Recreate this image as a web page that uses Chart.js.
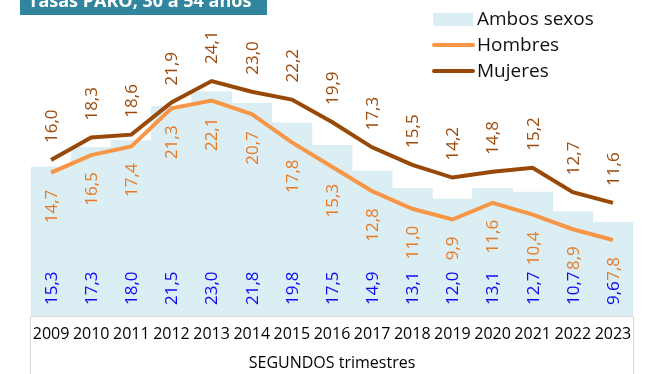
<!DOCTYPE html>
<html>
<head>
<meta charset="utf-8">
<style>
  html, body { margin: 0; padding: 0; background: #fff; }
  #wrap { position: relative; width: 650px; height: 374px; }
</style>
<script src="https://cdn.jsdelivr.net/npm/chart.js@4.4.1/dist/chart.umd.min.js"></script>
</head>
<body>
<div id="wrap"><canvas id="c" width="650" height="374"></canvas></div>
<script>
// Unemployment rates, ages 30-54, second quarter of each year
const years = ['2009','2010','2011','2012','2013','2014','2015','2016','2017','2018','2019','2020','2021','2022','2023'];
const ambosSexos = [15.3, 17.3, 18.0, 21.5, 23.0, 21.8, 19.8, 17.5, 14.9, 13.1, 12.0, 13.1, 12.7, 10.7, 9.6];
const hombres    = [14.7, 16.5, 17.4, 21.3, 22.1, 20.7, 17.8, 15.3, 12.8, 11.0, 9.9, 11.6, 10.4, 8.9, 7.8];
const mujeres    = [16.0, 18.3, 18.6, 21.9, 24.1, 23.0, 22.2, 19.9, 17.3, 15.5, 14.2, 14.8, 15.2, 12.7, 11.6];

const FONT = "'Open Sans', 'DejaVu Sans', sans-serif";
const fmt = v => v.toFixed(1).replace('.', ',');

// Rotated value labels: bars at the bottom, men below the line, women above
const valueLabels = {
  id: 'valueLabels',
  afterDatasetsDraw(chart) {
    const ctx = chart.ctx;
    ctx.save();
    ctx.font = '17px ' + FONT;
    ctx.textBaseline = 'middle';
    chart.data.datasets.forEach((ds, di) => {
      const meta = chart.getDatasetMeta(di);
      meta.data.forEach((el, i) => {
        const txt = fmt(ds.data[i]);
        let y, align;
        if (ds.labelPos === 'base') { y = el.base - 11; align = 'left'; }
        else if (ds.labelPos === 'below') { y = el.y + 17; align = 'right'; }
        else { y = el.y - 17; align = 'left'; }
        ctx.save();
        ctx.translate(el.x + 1, y);
        ctx.rotate(-Math.PI / 2);
        ctx.textAlign = align;
        ctx.fillStyle = ds.labelColor;
        ctx.fillText(txt, 0, 0);
        ctx.restore();
      });
    });
    ctx.restore();
  }
};

// Legend block, title tab and the frame round the category axis
const decorations = {
  id: 'decorations',
  afterDraw(chart) {
    const ctx = chart.ctx;
    const a = chart.chartArea;
    ctx.save();
    // frame sides below the plot
    ctx.strokeStyle = '#D9D9D9';
    ctx.lineWidth = 1;
    ctx.beginPath();
    ctx.moveTo(a.left - 0.5, a.bottom);
    ctx.lineTo(a.left - 0.5, chart.height);
    ctx.moveTo(a.right + 0.5, a.bottom);
    ctx.lineTo(a.right + 0.5, chart.height);
    ctx.stroke();

    // title tab
    ctx.fillStyle = '#31859C';
    ctx.fillRect(20, -10, 247, 25);
    ctx.fillStyle = '#FFFFFF';
    ctx.font = 'bold 18px ' + FONT;
    ctx.textBaseline = 'alphabetic';
    ctx.textAlign = 'left';
    ctx.fillText('Tasas PARO, 30 a 54 años', 28, 7);

    // legend
    const ds = chart.data.datasets;
    const lx = 433, rowY = [20, 46, 72];
    ctx.font = '19px ' + FONT;
    ctx.textBaseline = 'middle';
    ds.forEach((d, i) => {
      const y = rowY[i];
      if (d.type === 'bar') {
        ctx.fillStyle = d.backgroundColor;
        ctx.fillRect(lx, y - 7, 40, 13);
      } else {
        ctx.strokeStyle = d.borderColor;
        ctx.lineWidth = 4;
        ctx.lineCap = 'round';
        ctx.beginPath();
        ctx.moveTo(lx + 1, y - 1);
        ctx.lineTo(lx + 40, y - 1);
        ctx.stroke();
      }
      ctx.fillStyle = '#111111';
      ctx.fillText(d.label, lx + 44, y);
    });
    ctx.restore();
  }
};

new Chart(document.getElementById('c'), {
  data: {
    labels: years,
    datasets: [
      {
        type: 'bar', label: 'Ambos sexos', data: ambosSexos,
        backgroundColor: '#DAEEF3', borderWidth: 0,
        categoryPercentage: 1.0, barPercentage: 1.0,
        order: 3, labelPos: 'base', labelColor: '#0A0AF5'
      },
      {
        type: 'line', label: 'Hombres', data: hombres,
        borderColor: '#F79646', borderWidth: 4, pointRadius: 0, tension: 0,
        order: 2, labelPos: 'below', labelColor: '#E87A24'
      },
      {
        type: 'line', label: 'Mujeres', data: mujeres,
        borderColor: '#984807', borderWidth: 4, pointRadius: 0, tension: 0,
        order: 1, labelPos: 'above', labelColor: '#9C4A0C'
      }
    ]
  },
  options: {
    responsive: false,
    animation: false,
    layout: { padding: { left: 31, right: 17, top: 4, bottom: 0 } },
    plugins: { legend: { display: false }, tooltip: { enabled: false } },
    scales: {
      x: {
        offset: true,
        grid: { display: false, drawTicks: false },
        border: { display: true, color: '#D9D9D9', width: 1 },
        ticks: { color: '#000000', font: { family: FONT, size: 16 }, padding: 9, maxRotation: 0, autoSkip: false },
        title: { display: true, text: 'SEGUNDOS trimestres', color: '#000000', font: { family: FONT, size: 16 }, padding: { top: 0, bottom: 1 } },
        afterFit(scale) { scale.height = 58; }
      },
      y: {
        display: false,
        min: 0, max: 32
      }
    }
  },
  plugins: [valueLabels, decorations]
});
</script>
</body>
</html>
